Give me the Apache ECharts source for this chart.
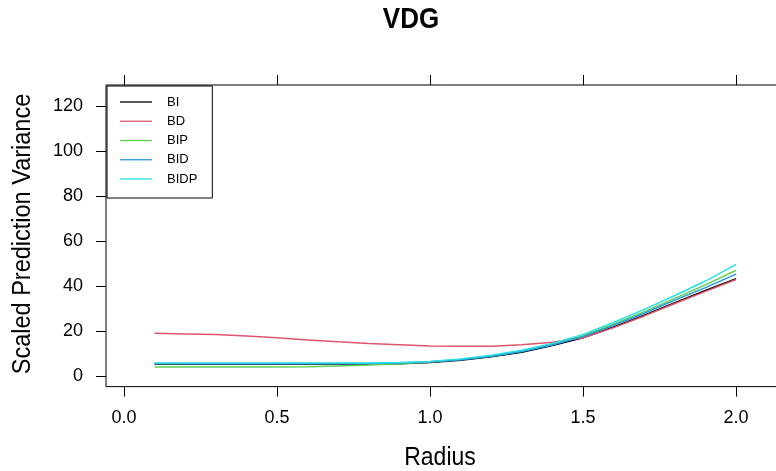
<!DOCTYPE html>
<html>
<head>
<meta charset="utf-8">
<script src="https://cdn.jsdelivr.net/npm/echarts@6/dist/echarts.min.js"></script>
<style>
  html, body { margin: 0; padding: 0; background: #fff; }
  #chart { width: 776px; height: 471px; }
</style>
</head>
<body>
<div id="chart"></div>
<script>
// Variance dispersion graph: scaled prediction variance against radius
const radius = [0.1, 0.2, 0.3, 0.4, 0.5, 0.6, 0.7, 0.8, 0.9, 1.0,
                1.1, 1.2, 1.3, 1.4, 1.5, 1.6, 1.7, 1.8, 1.9, 2.0];
const seriesNames = ['BI', 'BD', 'BIP', 'BID', 'BIDP'];
const BI   = [5.3, 5.3, 5.3, 5.3, 5.3, 5.3, 5.3, 5.3, 5.5, 6.0,
              7.0, 8.6, 10.6, 13.5, 17.0, 21.8, 27.0, 32.6, 38.0, 43.2];
const BD   = [19.0, 18.7, 18.4, 17.8, 17.0, 16.0, 15.2, 14.5, 13.9, 13.3,
              13.2, 13.2, 13.9, 15.0, 17.0, 21.5, 26.7, 32.2, 37.6, 42.9];
const BIP  = [4.0, 4.0, 4.0, 4.0, 4.0, 4.1, 4.5, 4.9, 5.5, 6.2,
              7.3, 8.9, 11.0, 14.1, 17.9, 23.0, 28.6, 34.5, 40.5, 47.0];
const BID  = [5.6, 5.6, 5.6, 5.6, 5.6, 5.6, 5.6, 5.6, 5.8, 6.3,
              7.2, 8.8, 10.9, 13.8, 17.5, 22.5, 27.9, 33.7, 39.3, 45.3];
const BIDP = [5.75, 5.75, 5.75, 5.75, 5.75, 5.75, 5.75, 5.75, 6.0, 6.5,
              7.6, 9.2, 11.4, 14.5, 18.5, 23.8, 29.6, 35.8, 42.2, 49.6];
const xTicks = [0, 0.5, 1, 1.5, 2];
const yTicks = [0, 20, 40, 60, 80, 100, 120];

const values = [BI, BD, BIP, BID, BIDP];
const colors = ['#000000', '#DF536B', '#61D04F', '#2297E6', '#28E2E5'];
const FONT = 'Liberation Sans, Arial, sans-serif';

const chart = echarts.init(document.getElementById('chart'), null, { renderer: 'canvas' });

const tickStyle = { color: '#000', width: 1 };
const xBase = {
  type: 'value', gridIndex: 0, min: -0.0588, max: 2.16,
  splitLine: { show: false },
  axisLine: { show: false, onZero: false }
};
const yBase = {
  type: 'value', gridIndex: 0, min: -4.71, max: 129.33,
  splitLine: { show: false },
  axisLine: { show: false, onZero: false }
};

chart.setOption({
  animation: false,
  backgroundColor: '#ffffff',
  grid: {
    left: 106, top: 85, width: 679, height: 301.6,
    show: true, borderColor: '#000', borderWidth: 1,
    backgroundColor: 'transparent',
    containLabel: false, outerBoundsMode: 'none'
  },
  xAxis: [
    Object.assign({}, xBase, {
      position: 'bottom',
      axisTick: { show: true, inside: false, length: 10, customValues: xTicks, lineStyle: tickStyle },
      axisLabel: { show: true, customValues: xTicks, margin: 22,
                   formatter: v => v.toFixed(1),
                   color: '#000', fontSize: 18, fontFamily: FONT }
    }),
    Object.assign({}, xBase, {
      position: 'top',
      axisTick: { show: true, inside: false, length: 10, customValues: xTicks, lineStyle: tickStyle },
      axisLabel: { show: false }
    })
  ],
  yAxis: [
    Object.assign({}, yBase, {
      position: 'left',
      axisTick: { show: true, inside: false, length: 10, customValues: yTicks, lineStyle: tickStyle },
      axisLabel: { show: true, customValues: yTicks, margin: 23,
                   color: '#000', fontSize: 18, fontFamily: FONT }
    })
  ],
  legend: {
    orient: 'vertical',
    left: 107, top: 86,
    data: seriesNames,
    icon: 'rect',
    backgroundColor: '#fff',
    borderColor: '#000', borderWidth: 1, borderRadius: 0,
    padding: [9, 15, 12, 13],
    itemWidth: 32, itemHeight: 1.3, itemGap: 5.25,
    textStyle: { color: '#000', fontSize: 13, lineHeight: 14, fontFamily: FONT,
                 padding: [0, 0, 0, 10] }
  },
  graphic: [
    { type: 'text', x: 411, y: 20, scaleY: 1.1,
      style: { text: 'VDG', fill: '#000', font: 'bold 26px ' + FONT,
               textAlign: 'center', textVerticalAlign: 'middle' } },
    { type: 'text', x: 440, y: 458, scaleY: 1.1,
      style: { text: 'Radius', fill: '#000', font: '23px ' + FONT,
               textAlign: 'center', textVerticalAlign: 'middle' } },
    { type: 'text', x: 23, y: 234, rotation: Math.PI / 2, scaleY: 1.1,
      style: { text: 'Scaled Prediction Variance', fill: '#000', font: '23.5px ' + FONT,
               textAlign: 'center', textVerticalAlign: 'middle' } }
  ],
  series: seriesNames.map((name, i) => ({
    name: name,
    type: 'line',
    xAxisIndex: 0, yAxisIndex: 0,
    symbol: 'none',
    color: colors[i],
    lineStyle: { color: colors[i], width: 1.5 },
    data: radius.map((r, k) => [r, values[i][k]])
  }))
});
</script>
</body>
</html>
